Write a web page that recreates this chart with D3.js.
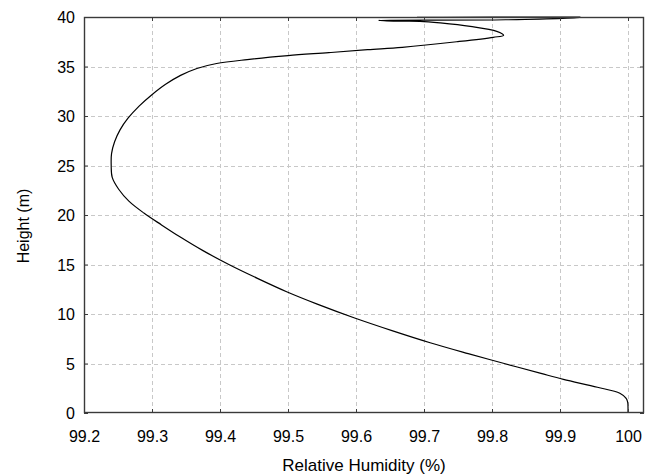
<!DOCTYPE html>
<html><head><meta charset="utf-8">
<script src="https://cdn.jsdelivr.net/npm/d3@7"></script>
<style>
html,body{margin:0;padding:0;background:#fff;}
svg{display:block;}
text{font-family:"Liberation Sans",Arial,sans-serif;fill:#000;}
</style></head>
<body>
<svg id="chart" width="653" height="476"></svg>
<script>
// Data
const heights = [0, 0.6, 1.1, 1.5, 2.0, 2.6, 3.4, 4.0, 5.0, 6.0, 7.1, 8.3, 9.6, 11.0, 12.25, 13.6, 15.0, 16.4, 17.8, 19.0, 20.2, 21.4, 22.6, 23.8, 25.0, 26.2, 27.4, 28.6, 29.8, 31.0, 32.1, 33.2, 34.1, 34.8, 35.3, 35.7, 36.1, 36.4, 36.7, 36.94, 37.5, 37.95, 38.15, 38.55, 39.05, 39.4, 39.56, 39.58, 39.66, 39.72, 39.95, 39.97, 40];
const humidity = [100.0, 100.0, 99.9995, 99.997, 99.988, 99.955, 99.905, 99.872, 99.818, 99.765, 99.709, 99.654, 99.598, 99.543, 99.498, 99.455, 99.413, 99.375, 99.341, 99.314, 99.288, 99.266, 99.251, 99.2415, 99.240, 99.2405, 99.245, 99.253, 99.265, 99.281, 99.299, 99.320, 99.342, 99.366, 99.395, 99.44, 99.5, 99.56, 99.617, 99.668, 99.748, 99.802, 99.817, 99.807, 99.768, 99.724, 99.694, 99.655, 99.633, 99.82, 99.93, 99.69, 99.93];
const xTicks = [99.2, 99.3, 99.4, 99.5, 99.6, 99.7, 99.8, 99.9, 100];
const xTickLabels = ["99.2", "99.3", "99.4", "99.5", "99.6", "99.7", "99.8", "99.9", "100"];
const yTicks = [0, 5, 10, 15, 20, 25, 30, 35, 40];
const xTitle = "Relative Humidity (%)";
const yTitle = "Height (m)";

const svg = d3.select("#chart");
const L = 84, R = 644, T = 17, B = 413;
const x = d3.scaleLinear().domain([99.2, 99.2 + (R - L) / 680]).range([L, R]);
const y = d3.scaleLinear().domain([0, 40]).range([B, T]);
const FONT = "Liberation Sans, Arial, sans-serif";

// grid
const grid = svg.append("g").attr("stroke", "#c8c8c8").attr("stroke-width", 1).attr("stroke-dasharray", "4,3").attr("shape-rendering", "crispEdges");
xTicks.slice(1).forEach(v => {
  if (x(v) < R - 2) grid.append("line").attr("x1", Math.round(x(v)) + 0.5).attr("x2", Math.round(x(v)) + 0.5).attr("y1", T).attr("y2", B);
});
yTicks.slice(1, -1).forEach(v => {
  grid.append("line").attr("x1", L).attr("x2", R).attr("y1", Math.round(y(v)) + 0.5).attr("y2", Math.round(y(v)) + 0.5);
});

// curve
const line = d3.line().x((d, i) => x(humidity[i])).y((d, i) => y(d)).curve(d3.curveCatmullRom.alpha(0.5));
svg.append("path").datum(heights).attr("d", line).attr("fill", "none").attr("stroke", "#000").attr("stroke-width", 1.2).attr("stroke-linejoin", "round");

// frame
svg.append("rect").attr("x", L + 0.5).attr("y", T + 0.5).attr("width", R - L - 1).attr("height", B - T - 1)
  .attr("fill", "none").attr("stroke", "#3a3a3a").attr("stroke-width", 1.4);

// axes ticks (inward) via d3 axes
const xAxis = d3.axisBottom(x).tickValues(xTicks).tickFormat((d, i) => xTickLabels[i]).tickSizeInner(-4).tickSizeOuter(0);
const gx = svg.append("g").attr("transform", `translate(0,${B})`).call(xAxis);
gx.select(".domain").remove();
gx.selectAll(".tick line").attr("stroke", "#3a3a3a");
gx.selectAll("text").attr("dy", null).attr("y", 29).attr("font-size", 16).attr("font-family", FONT).attr("fill", "#000");

const xAxisTop = d3.axisTop(x).tickValues(xTicks).tickSizeInner(-4).tickSizeOuter(0).tickFormat("");
const gxt = svg.append("g").attr("transform", `translate(0,${T})`).call(xAxisTop);
gxt.select(".domain").remove();
gxt.selectAll(".tick line").attr("stroke", "#3a3a3a");

const yAxis = d3.axisLeft(y).tickValues(yTicks).tickSizeInner(-4).tickSizeOuter(0).tickPadding(9);
const gy = svg.append("g").attr("transform", `translate(${L},0)`).call(yAxis);
gy.select(".domain").remove();
gy.selectAll(".tick line").attr("stroke", "#3a3a3a");
gy.selectAll("text").attr("dy", "0.36em").attr("font-size", 16).attr("font-family", FONT).attr("fill", "#000");

const yAxisR = d3.axisRight(y).tickValues(yTicks).tickSizeInner(-4).tickSizeOuter(0).tickFormat("");
const gyr = svg.append("g").attr("transform", `translate(${R},0)`).call(yAxisR);
gyr.select(".domain").remove();
gyr.selectAll(".tick line").attr("stroke", "#3a3a3a");

// titles
svg.append("text").attr("x", 364).attr("y", 471).attr("text-anchor", "middle").attr("font-size", 17).attr("font-family", FONT).text(xTitle);
svg.append("text").attr("transform", `translate(29,226) rotate(-90)`).attr("text-anchor", "middle").attr("font-size", 16).attr("font-family", FONT).text(yTitle);
</script>
</body></html>
